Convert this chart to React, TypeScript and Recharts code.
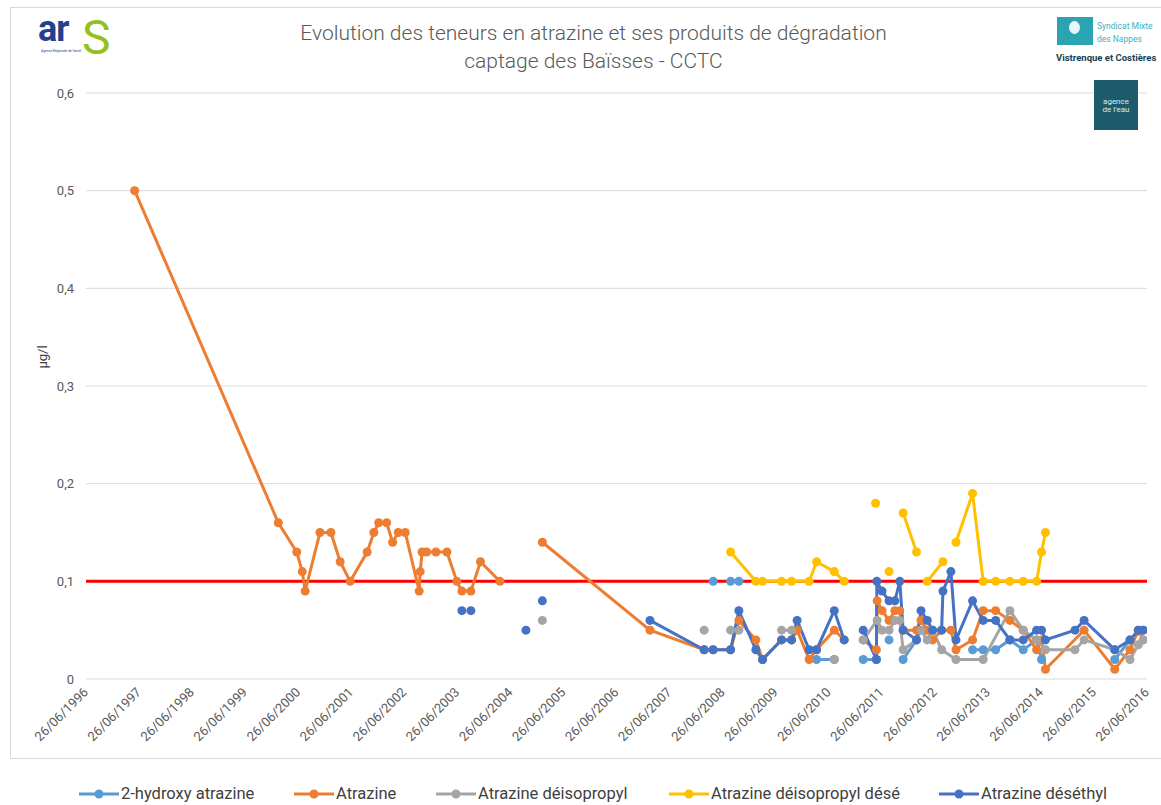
import React from 'react';
import { LineChart, Line, XAxis, YAxis, CartesianGrid, ReferenceLine } from 'recharts';

type Pt = [string, number | null];

// sampling dates and values per series, null = break in the line
const hydroxyAtrazine: Pt[] = [
  ['2008-04-22', 0.1], ['2008-06-01', null], ['2008-08-20', 0.1], ['2008-10-16', 0.1], ['2009-01-01', null],
  ['2010-04-04', 0.02], ['2010-08-04', 0.02], ['2010-12-01', null],
  ['2011-02-19', 0.02], ['2011-05-21', 0.02], ['2011-07-01', null], ['2011-08-16', 0.04], ['2011-10-01', null],
  ['2011-11-21', 0.02], ['2012-02-21', 0.04], ['2012-06-01', null],
  ['2013-03-13', 0.03], ['2013-05-25', 0.03], ['2013-08-19', 0.03], ['2013-11-25', 0.04], ['2014-02-25', 0.03],
  ['2014-05-28', 0.04], ['2014-07-01', 0.02], ['2014-12-01', null],
  ['2015-11-17', 0.02], ['2016-03-01', 0.04], ['2016-05-31', 0.05],
];

const atrazine: Pt[] = [
  ['1997-05-27', 0.5], ['2000-02-10', 0.16], ['2000-06-16', 0.13], ['2000-07-24', 0.11], ['2000-08-13', 0.09],
  ['2000-11-23', 0.15], ['2001-02-06', 0.15], ['2001-04-11', 0.12], ['2001-06-19', 0.1], ['2001-10-14', 0.13],
  ['2001-11-29', 0.15], ['2002-01-01', 0.16], ['2002-02-25', 0.16], ['2002-04-07', 0.14], ['2002-05-16', 0.15],
  ['2002-07-03', 0.15], ['2002-10-07', 0.09], ['2002-10-14', 0.11], ['2002-10-27', 0.13], ['2002-11-27', 0.13],
  ['2003-01-30', 0.13], ['2003-04-16', 0.13], ['2003-06-23', 0.1], ['2003-07-28', 0.09], ['2003-09-28', 0.09],
  ['2003-12-03', 0.12], ['2004-04-15', 0.1], ['2004-08-01', null],
  ['2005-02-01', 0.14], ['2007-02-12', 0.05], ['2008-02-20', 0.03], ['2008-04-22', 0.03], ['2008-08-20', 0.03],
  ['2008-10-16', 0.06], ['2009-02-10', 0.04], ['2009-03-28', 0.02], ['2009-08-06', 0.04], ['2009-10-14', 0.04],
  ['2009-11-21', 0.05], ['2010-02-12', 0.02], ['2010-04-04', 0.03], ['2010-08-04', 0.05], ['2010-10-11', 0.04],
  ['2010-12-01', null],
  ['2011-02-19', 0.04], ['2011-05-21', 0.03], ['2011-05-26', 0.08], ['2011-06-29', 0.07], ['2011-08-16', 0.06],
  ['2011-09-25', 0.07], ['2011-10-29', 0.07], ['2011-11-21', 0.05], ['2012-02-21', 0.05], ['2012-03-23', 0.06],
  ['2012-05-05', 0.05], ['2012-06-11', 0.04], ['2012-08-12', 0.05], ['2012-10-15', 0.05], ['2012-11-19', 0.03],
  ['2013-03-13', 0.04], ['2013-05-25', 0.07], ['2013-08-19', 0.07], ['2013-11-25', 0.06], ['2014-02-25', 0.05],
  ['2014-05-28', 0.03], ['2014-07-01', 0.04], ['2014-07-28', 0.01], ['2015-04-20', 0.05], ['2015-11-17', 0.01],
  ['2016-03-01', 0.03], ['2016-04-27', 0.05], ['2016-05-31', 0.04],
];

const deisopropyl: Pt[] = [
  ['2005-02-01', 0.06], ['2006-01-01', null], ['2008-02-20', 0.05], ['2008-06-01', null],
  ['2008-08-20', 0.05], ['2008-10-16', 0.05], ['2009-01-01', null], ['2009-08-06', 0.05], ['2009-10-14', 0.05],
  ['2010-01-01', null], ['2010-08-04', 0.02], ['2010-12-01', null],
  ['2011-02-19', 0.04], ['2011-05-26', 0.06], ['2011-06-29', 0.05], ['2011-08-16', 0.05], ['2011-09-25', 0.06],
  ['2011-10-29', 0.06], ['2011-11-21', 0.03], ['2012-02-21', 0.04], ['2012-03-23', 0.05], ['2012-05-05', 0.04],
  ['2012-06-11', 0.05], ['2012-08-12', 0.03], ['2012-11-19', 0.02], ['2013-05-25', 0.02], ['2013-11-25', 0.07],
  ['2014-02-25', 0.05], ['2014-05-28', 0.04], ['2014-07-28', 0.03], ['2015-02-16', 0.03], ['2015-04-20', 0.04],
  ['2015-11-17', 0.03], ['2016-03-01', 0.02], ['2016-04-27', 0.035], ['2016-05-31', 0.04],
];

const deisopropylDesethyl: Pt[] = [
  ['2008-08-20', 0.13], ['2009-02-10', 0.1], ['2009-03-28', 0.1], ['2009-08-06', 0.1], ['2009-10-14', 0.1],
  ['2010-02-12', 0.1], ['2010-04-04', 0.12], ['2010-08-04', 0.11], ['2010-10-11', 0.1], ['2010-12-01', null],
  ['2011-05-15', 0.18], ['2011-07-01', null], ['2011-08-16', 0.11], ['2011-10-01', null],
  ['2011-11-21', 0.17], ['2012-02-21', 0.13], ['2012-04-01', null], ['2012-05-05', 0.1], ['2012-08-21', 0.12],
  ['2012-10-01', null], ['2012-11-19', 0.14], ['2013-03-13', 0.19], ['2013-05-25', 0.1], ['2013-08-19', 0.1],
  ['2013-11-25', 0.1], ['2014-02-25', 0.1], ['2014-05-28', 0.1], ['2014-07-01', 0.13], ['2014-07-28', 0.15],
];

const desethyl: Pt[] = [
  ['2003-07-28', 0.07], ['2003-08-20', null], ['2003-09-28', 0.07], ['2004-06-01', null], ['2004-10-11', 0.05],
  ['2004-12-01', null], ['2005-02-01', 0.08], ['2006-01-01', null],
  ['2007-02-12', 0.06], ['2008-02-20', 0.03], ['2008-04-22', 0.03], ['2008-08-20', 0.03], ['2008-10-16', 0.07],
  ['2009-02-10', 0.03], ['2009-03-28', 0.02], ['2009-08-06', 0.04], ['2009-10-14', 0.04], ['2009-11-21', 0.06],
  ['2010-02-12', 0.03], ['2010-04-04', 0.03], ['2010-08-04', 0.07], ['2010-10-11', 0.04], ['2010-12-01', null],
  ['2011-02-19', 0.05], ['2011-05-21', 0.02], ['2011-05-24', 0.1], ['2011-06-29', 0.09], ['2011-08-16', 0.08],
  ['2011-09-25', 0.08], ['2011-10-29', 0.1], ['2011-11-21', 0.05], ['2012-02-21', 0.04], ['2012-03-23', 0.07],
  ['2012-05-05', 0.06], ['2012-06-11', 0.05], ['2012-08-12', 0.05], ['2012-08-21', 0.09], ['2012-10-15', 0.11],
  ['2012-11-19', 0.04], ['2013-03-13', 0.08], ['2013-05-25', 0.06], ['2013-08-19', 0.06], ['2013-11-25', 0.04],
  ['2014-02-25', 0.04], ['2014-05-28', 0.05], ['2014-07-01', 0.05], ['2014-07-28', 0.04], ['2015-02-16', 0.05],
  ['2015-04-20', 0.06], ['2015-11-17', 0.03], ['2016-03-01', 0.04], ['2016-04-27', 0.05], ['2016-05-31', 0.05],
];

const tickYears = [
  1996, 1997, 1998, 1999, 2000, 2001, 2002, 2003, 2004, 2005, 2006,
  2007, 2008, 2009, 2010, 2011, 2012, 2013, 2014, 2015, 2016,
];
const yTicks = [0, 0.1, 0.2, 0.3, 0.4, 0.5, 0.6];
const seuil = 0.1;

const SERIES = [
  { name: '2-hydroxy atrazine', color: '#5B9BD5', pts: hydroxyAtrazine },
  { name: 'Atrazine', color: '#ED7D31', pts: atrazine },
  { name: 'Atrazine déisopropyl', color: '#A5A5A5', pts: deisopropyl },
  { name: 'Atrazine déisopropyl désé', color: '#FFC000', pts: deisopropylDesethyl },
  { name: 'Atrazine déséthyl', color: '#4472C4', pts: desethyl },
];

const FONT = 'Roboto, "Open Sans", sans-serif';
const toTime = (s: string) => Date.parse(s + 'T00:00:00Z');
const tickTimes = tickYears.map((y) => Date.UTC(y, 5, 26));

const fmtDate = (t: number) => {
  const d = new Date(t);
  const dd = String(d.getUTCDate()).padStart(2, '0');
  const mm = String(d.getUTCMonth() + 1).padStart(2, '0');
  return `${dd}/${mm}/${d.getUTCFullYear()}`;
};

const XTick = (props: any) => {
  const { x, y, payload } = props;
  const tx = x + 3;
  const ty = y + 6;
  return (
    <text
      x={tx}
      y={ty}
      transform={`rotate(-45 ${tx} ${ty})`}
      textAnchor="end"
      fill="#595959"
      fontSize={13}
      fontFamily={FONT}
    >
      {fmtDate(payload.value)}
    </text>
  );
};

const legendX = [78, 293, 435, 668, 938];

export default function App() {
  return (
    <div
      style={{
        position: 'absolute',
        left: 0,
        top: 0,
        width: 1161,
        height: 805,
        overflow: 'hidden',
        background: '#fff',
        fontFamily: FONT,
      }}
    >
      <div
        style={{
          position: 'absolute',
          left: 10,
          top: 7,
          width: 1170,
          height: 750,
          border: '1px solid #D9D9D9',
        }}
      />

      <div style={{ position: 'absolute', left: 0, top: 0 }}>
        <LineChart width={1161} height={805} margin={{ top: 93, right: 14, bottom: 66, left: 26 }}>
          <CartesianGrid vertical={false} stroke="#D9D9D9" strokeWidth={1} />
          <XAxis
            type="number"
            dataKey="t"
            domain={[tickTimes[0], tickTimes[tickTimes.length - 1]]}
            ticks={tickTimes}
            allowDataOverflow
            axisLine={false}
            tickLine={false}
            height={60}
            tick={<XTick />}
            interval={0}
          />
          <YAxis
            domain={[0, 0.6]}
            ticks={yTicks}
            width={60}
            axisLine={false}
            tickLine={false}
            tickMargin={6}
            tickFormatter={(v: number) => String(Math.round(v * 10) / 10).replace('.', ',')}
            tick={{ fill: '#595959', fontSize: 13, fontFamily: FONT }}
          />
          <ReferenceLine y={seuil} stroke="#FF0000" strokeWidth={3} />
          {SERIES.map((s) => (
            <Line
              key={s.name}
              name={s.name}
              data={s.pts.map(([d, v]) => ({ t: toTime(d), v }))}
              dataKey="v"
              type="linear"
              stroke={s.color}
              strokeWidth={3}
              dot={{ r: 4.5, fill: s.color, stroke: s.color, strokeWidth: 0 }}
              activeDot={false}
              connectNulls={false}
              isAnimationActive={false}
            />
          ))}
        </LineChart>
      </div>

      {/* titre */}
      <div
        style={{
          position: 'absolute',
          left: 0,
          width: 1187,
          top: 19,
          textAlign: 'center',
          color: '#595959',
          fontSize: 21,
          fontWeight: 300,
          lineHeight: '28px',
        }}
      >
        Evolution des teneurs en atrazine et ses produits de dégradation
        <br />
        captage des Baïsses - CCTC
      </div>

      {/* µg/l */}
      <div
        style={{
          position: 'absolute',
          left: 42,
          top: 357,
          transform: 'translate(-50%, -50%) rotate(-90deg)',
          color: '#404040',
          fontSize: 13,
          whiteSpace: 'nowrap',
        }}
      >
        µg/l
      </div>

      {/* logo ARS */}
      <span
        style={{
          position: 'absolute',
          left: 38,
          top: 14,
          fontSize: 36,
          lineHeight: '30px',
          fontWeight: 700,
          color: '#23408E',
          letterSpacing: -1,
        }}
      >
        ar
      </span>
      <span
        style={{
          position: 'absolute',
          left: 82,
          top: 16,
          fontSize: 48,
          lineHeight: '44px',
          color: '#95C11F',
        }}
      >
        S
      </span>
      <span
        style={{
          position: 'absolute',
          left: 41,
          top: 49,
          fontSize: 3.3,
          lineHeight: '4px',
          color: '#23408E',
          whiteSpace: 'nowrap',
        }}
      >
        Agence Régionale de Santé
      </span>

      {/* logo Syndicat */}
      <div style={{ position: 'absolute', left: 1057, top: 17, width: 36, height: 28, background: '#2AA3B3' }}>
        <div
          style={{
            position: 'absolute',
            left: 12,
            top: 4,
            width: 11,
            height: 13,
            borderRadius: '50%',
            background: '#E8F6F8',
          }}
        />
      </div>
      <div style={{ position: 'absolute', left: 1097, top: 20, fontSize: 8.5, color: '#3BB0BE', lineHeight: '13px' }}>
        Syndicat Mixte
        <br />
        des Nappes
      </div>
      <div
        style={{
          position: 'absolute',
          left: 1056,
          top: 52,
          fontSize: 9.5,
          fontWeight: 700,
          color: '#163F4F',
          whiteSpace: 'nowrap',
        }}
      >
        Vistrenque et Costières
      </div>

      {/* logo agence de l'eau */}
      <div
        style={{
          position: 'absolute',
          left: 1094,
          top: 80,
          width: 44,
          height: 50,
          background: '#1E5B6A',
          color: '#D8EEF2',
          fontSize: 8,
          lineHeight: '8px',
          textAlign: 'center',
          paddingTop: 18,
          boxSizing: 'border-box',
        }}
      >
        agence
        <br />
        de l'eau
      </div>

      {/* légende */}
      {SERIES.map((s, i) => (
        <div
          key={s.name}
          style={{
            position: 'absolute',
            left: legendX[i],
            top: 784,
            height: 20,
            display: 'flex',
            alignItems: 'center',
            whiteSpace: 'nowrap',
          }}
        >
          <svg width={42} height={12}>
            <line x1={1} y1={6} x2={41} y2={6} stroke={s.color} strokeWidth={3} />
            <circle cx={21} cy={6} r={4.5} fill={s.color} />
          </svg>
          <span style={{ color: '#404040', fontSize: 16.5, lineHeight: '20px', marginLeft: 1 }}>{s.name}</span>
        </div>
      ))}
    </div>
  );
}
